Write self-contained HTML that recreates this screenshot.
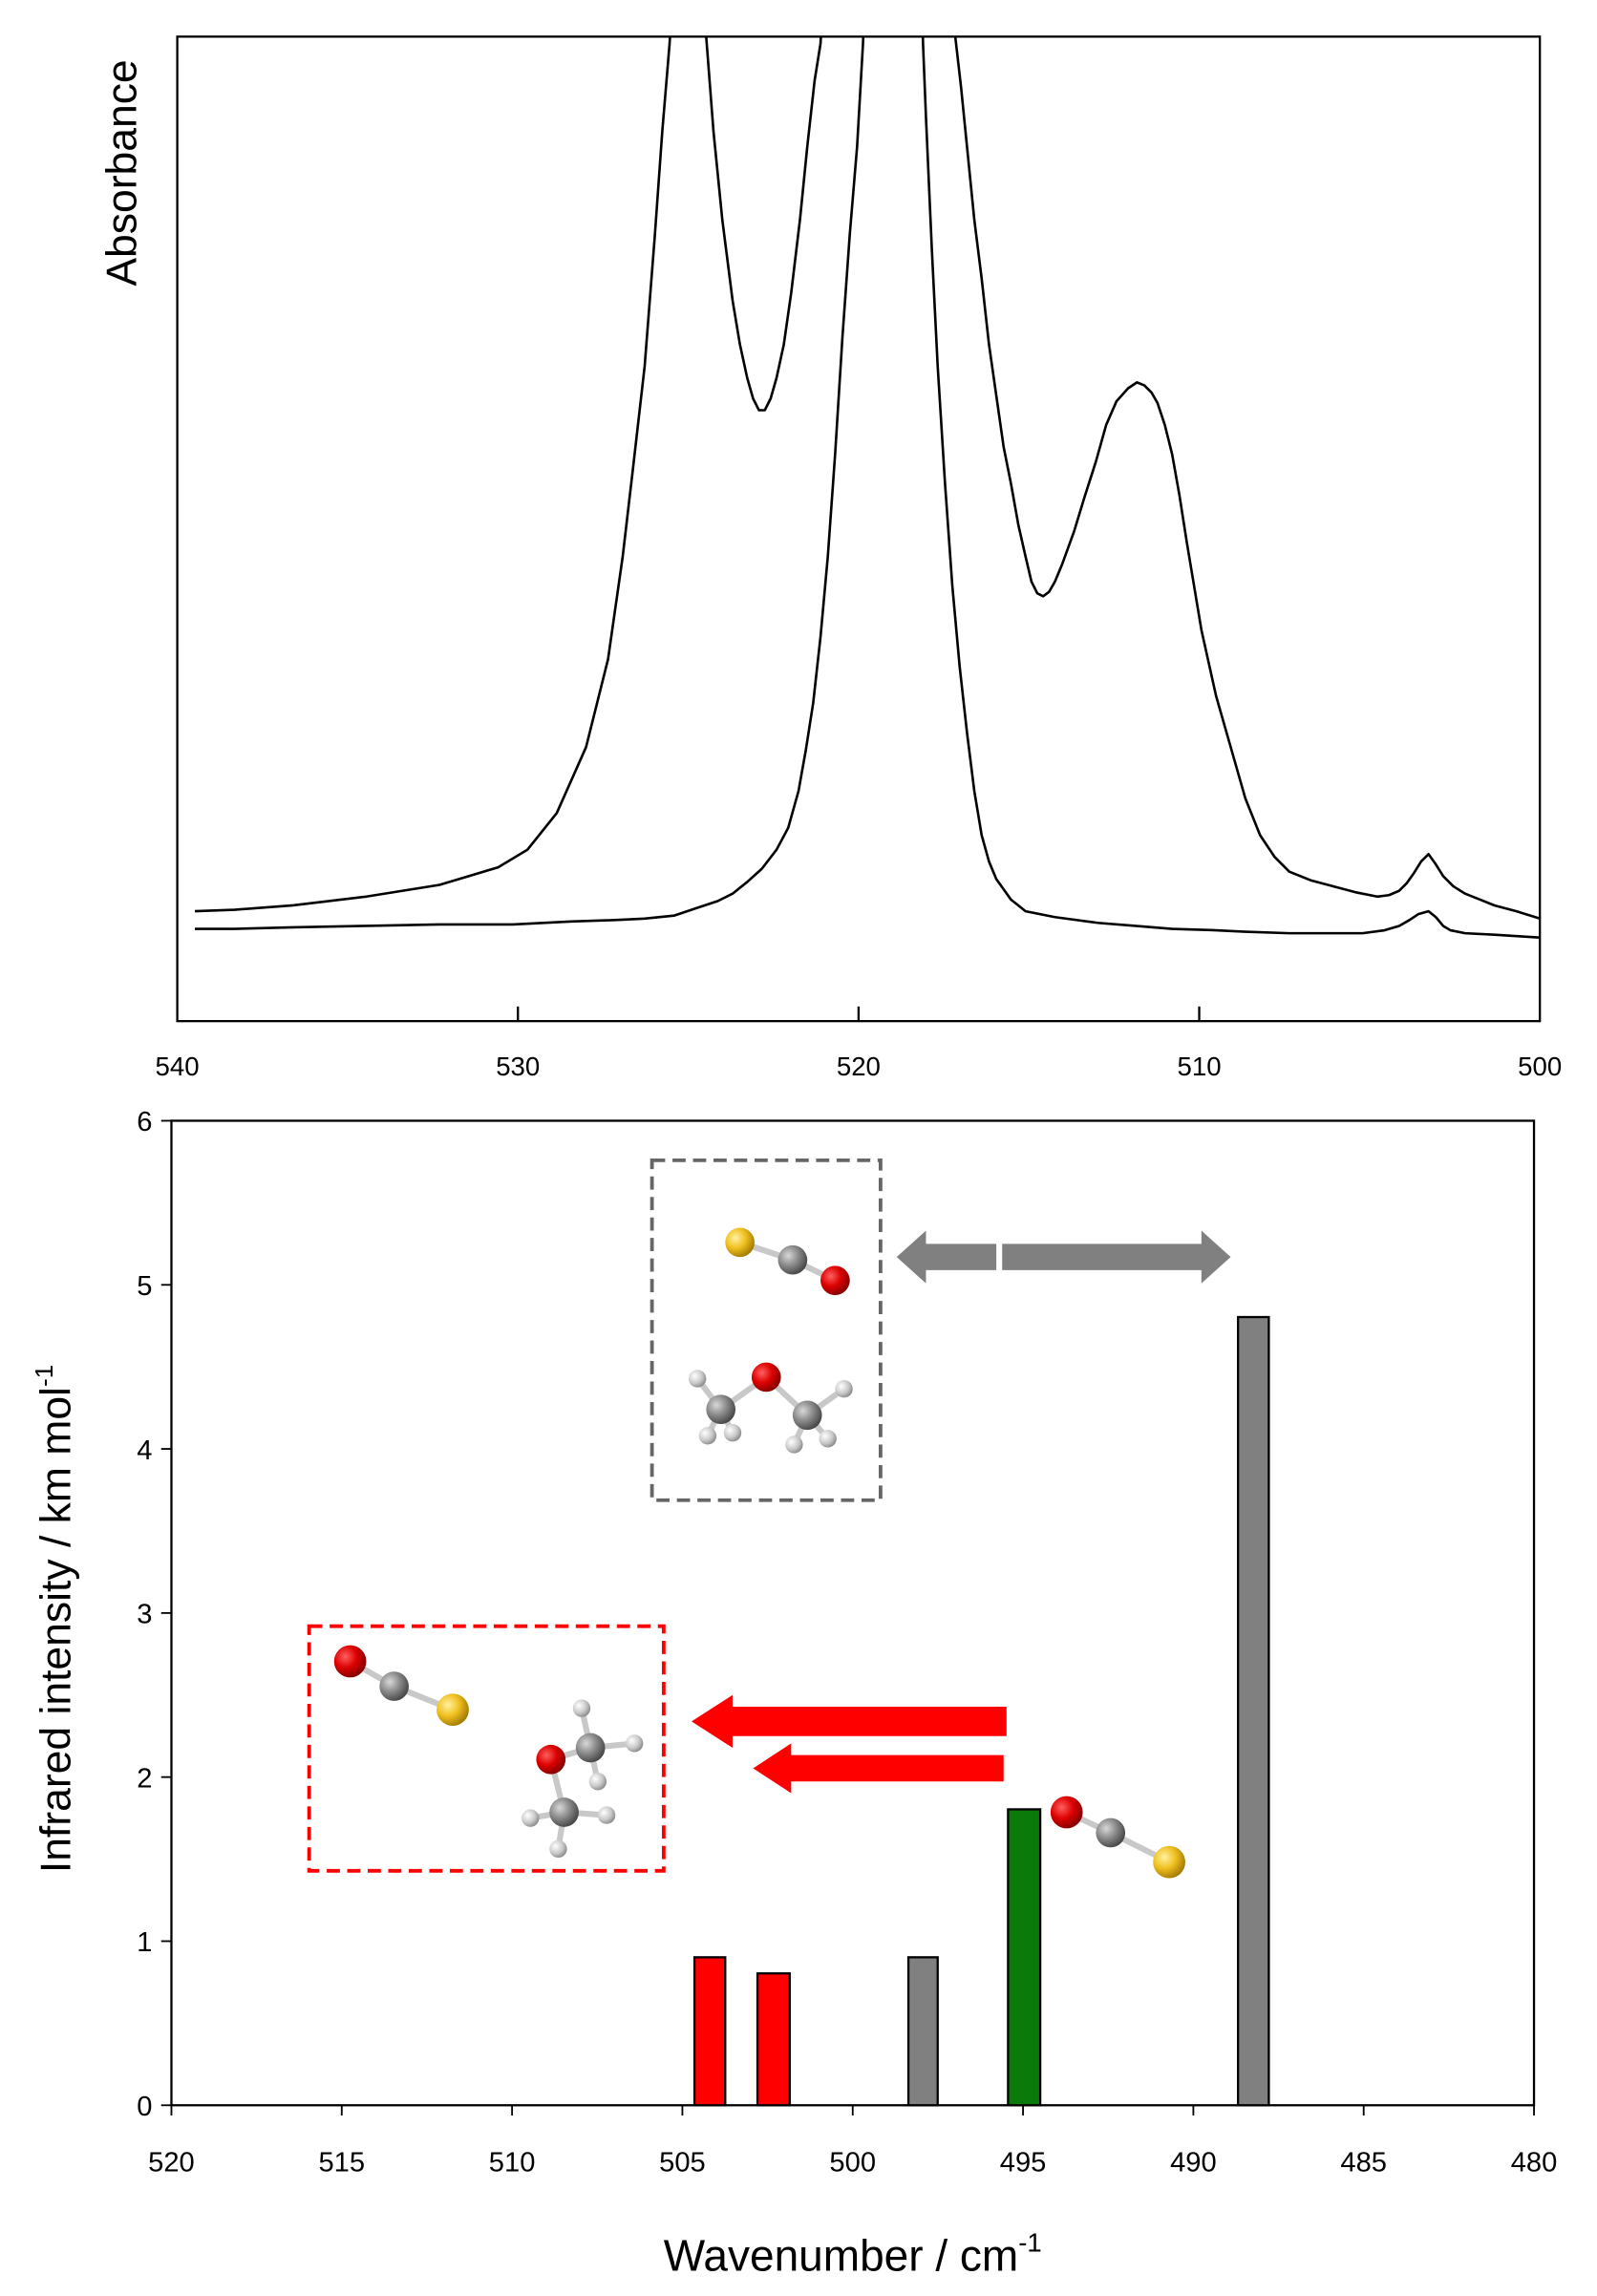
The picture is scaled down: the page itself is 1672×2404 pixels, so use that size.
<!DOCTYPE html>
<html><head><meta charset="utf-8"><style>html,body{margin:0;padding:0;background:#fff}svg{display:block}</style></head>
<body>
<svg width="1672" height="2404" viewBox="0 0 1090 1567.2" preserveAspectRatio="none" xmlns="http://www.w3.org/2000/svg" font-family="Liberation Sans, Arial, sans-serif">
<defs>
<clipPath id="c1"><rect x="121" y="25" width="930" height="672"/></clipPath>
<radialGradient id="gr" cx="0.35" cy="0.35" r="0.7"><stop offset="0" stop-color="#ff6060"/><stop offset="0.5" stop-color="#dd0000"/><stop offset="1" stop-color="#800000"/></radialGradient>
<radialGradient id="gy" cx="0.35" cy="0.35" r="0.7"><stop offset="0" stop-color="#fff2a0"/><stop offset="0.5" stop-color="#f0c020"/><stop offset="1" stop-color="#a07800"/></radialGradient>
<radialGradient id="gg" cx="0.35" cy="0.35" r="0.7"><stop offset="0" stop-color="#d8d8d8"/><stop offset="0.5" stop-color="#8a8a8a"/><stop offset="1" stop-color="#444"/></radialGradient>
<radialGradient id="gh" cx="0.35" cy="0.35" r="0.7"><stop offset="0" stop-color="#fff"/><stop offset="0.6" stop-color="#c8c8c8"/><stop offset="1" stop-color="#888"/></radialGradient>
</defs>

<!-- Top chart -->
<rect x="121" y="25" width="930" height="672" fill="none" stroke="#000" stroke-width="1.5"/>
<g stroke="#000" stroke-width="1.5">
<line x1="353.5" y1="697" x2="353.5" y2="687"/><line x1="586" y1="697" x2="586" y2="687"/><line x1="818.5" y1="697" x2="818.5" y2="687"/>
</g>
<g font-size="18" text-anchor="middle" fill="#000">
<text x="121" y="734">540</text><text x="353.5" y="734">530</text><text x="586" y="734">520</text><text x="818.5" y="734">510</text><text x="1051" y="734">500</text>
</g>
<text transform="translate(93,118) rotate(-90)" font-size="29" text-anchor="middle">Absorbance</text>
<g clip-path="url(#c1)" fill="none" stroke="#000" stroke-width="1.7" stroke-linejoin="round">
<polyline points="133,622 160,621 200,618 250,612 300,604 340,592 360,580 380,555 400,510 415,450 425,380 432,320 440,250 447,160 452,90 457,30 460,-20 469,-150 478,-20 482,25 487,90 493,150 500,205 505,235 510,258 514,272 518,280 522,280 526,272 530,258 535,235 540,200 546,150 551,100 556,55 560,30 565,-50 610,-300 655,-50 652,25 656,60 660,100 665,150 670,190 675,235 680,270 685,305 690,330 695,358 700,380 704,397 708,405 712,407 716,404 720,397 725,385 733,363 740,340 748,315 755,290 762,274 770,265 776,261 781,263 786,268 790,275 795,290 800,310 805,338 810,370 815,400 820,430 830,475 840,510 850,545 860,570 870,585 880,595 895,601 910,605 925,609 940,612 948,611 955,608 960,603 965,596 970,588 975,583 980,590 985,598 992,605 1000,610 1010,614 1020,618 1035,622 1051,627"/>
<polyline points="133,634 160,634 200,633 250,632 300,631 350,631 390,629 420,628 440,627 460,625 475,620 490,615 500,610 510,602 520,593 530,580 538,565 545,540 550,512 555,480 560,435 565,380 570,310 575,230 580,160 585,100 589,30 592,-50 610,-300 628,-50 630,30 632,80 636,170 640,250 645,330 650,400 655,455 660,500 665,540 670,570 675,588 680,600 690,614 700,622 720,626 750,630 775,632 800,634 830,635 850,636 880,637 900,637 930,637 945,635 955,632 962,628 968,624 975,622 980,626 985,632 990,635 1000,637 1020,638 1051,640"/>
</g>

<!-- Bottom chart -->
<rect x="117" y="765" width="930" height="672" fill="none" stroke="#000" stroke-width="1.5"/>
<g stroke="#000" stroke-width="1.2">
<line x1="110" y1="765" x2="117" y2="765"/><line x1="110" y1="877" x2="117" y2="877"/><line x1="110" y1="989" x2="117" y2="989"/><line x1="110" y1="1101" x2="117" y2="1101"/><line x1="110" y1="1213" x2="117" y2="1213"/><line x1="110" y1="1325" x2="117" y2="1325"/><line x1="110" y1="1437" x2="117" y2="1437"/>
<line x1="117" y1="1437" x2="117" y2="1444"/><line x1="233.25" y1="1437" x2="233.25" y2="1444"/><line x1="349.5" y1="1437" x2="349.5" y2="1444"/><line x1="465.75" y1="1437" x2="465.75" y2="1444"/><line x1="582" y1="1437" x2="582" y2="1444"/><line x1="698.25" y1="1437" x2="698.25" y2="1444"/><line x1="814.5" y1="1437" x2="814.5" y2="1444"/><line x1="930.75" y1="1437" x2="930.75" y2="1444"/><line x1="1047" y1="1437" x2="1047" y2="1444"/>
</g>
<g font-size="19" text-anchor="end" fill="#000">
<text x="104" y="772">6</text><text x="104" y="884">5</text><text x="104" y="996">4</text><text x="104" y="1108">3</text><text x="104" y="1220">2</text><text x="104" y="1332">1</text><text x="104" y="1444">0</text>
</g>
<g font-size="19" text-anchor="middle" fill="#000">
<text x="117" y="1482">520</text><text x="233.25" y="1482">515</text><text x="349.5" y="1482">510</text><text x="465.75" y="1482">505</text><text x="582" y="1482">500</text><text x="698.25" y="1482">495</text><text x="814.5" y="1482">490</text><text x="930.75" y="1482">485</text><text x="1047" y="1482">480</text>
</g>
<text transform="translate(48,1105) rotate(-90)" font-size="29" text-anchor="middle">Infrared intensity / km mol<tspan font-size="17" dy="-12">-1</tspan></text>
<text x="582" y="1550" font-size="30" text-anchor="middle">Wavenumber / cm<tspan font-size="18" dy="-13">-1</tspan></text>

<g stroke="#000" stroke-width="1.5">
<rect x="474" y="1336" width="21" height="101" fill="#ff0000"/>
<rect x="517" y="1347" width="22" height="90" fill="#ff0000"/>
<rect x="620" y="1336" width="20" height="101" fill="#808080"/>
<rect x="688" y="1235" width="22" height="202" fill="#0a7a0a"/>
<rect x="845" y="899" width="21" height="538" fill="#808080"/>
</g>

<!-- boxes -->
<rect x="445" y="792" width="156" height="232" fill="none" stroke="#666" stroke-width="2.5" stroke-dasharray="9,5"/>
<rect x="211" y="1110" width="242" height="167" fill="none" stroke="#ff0000" stroke-width="2.5" stroke-dasharray="9,5"/>

<!-- arrows -->
<polygon points="612,858 632,840 632,849 680,849 680,867 632,867 632,876" fill="#808080"/>
<polygon points="684,849 820,849 820,840 840,858 820,876 820,867 684,867" fill="#808080"/>
<polygon points="472,1175 500,1157 500,1165 687,1165 687,1185 500,1185 500,1193" fill="#ff0000"/>
<polygon points="514,1207 540,1190 540,1198 685,1198 685,1216 540,1216 540,1224" fill="#ff0000"/>

<!-- molecules -->
<g stroke="#c8c8c8" stroke-width="4">
<line x1="505" y1="848" x2="541" y2="860"/><line x1="541" y1="860" x2="570" y2="874"/>
<line x1="523" y1="940" x2="492" y2="962"/><line x1="523" y1="940" x2="551" y2="966"/>
<line x1="492" y1="962" x2="476" y2="941"/><line x1="492" y1="962" x2="483" y2="980"/><line x1="492" y1="962" x2="500" y2="978"/>
<line x1="551" y1="966" x2="576" y2="948"/><line x1="551" y1="966" x2="542" y2="986"/><line x1="551" y1="966" x2="565" y2="982"/>
<line x1="239" y1="1134" x2="269" y2="1151"/><line x1="269" y1="1151" x2="309" y2="1167"/>
<line x1="376" y1="1201" x2="403" y2="1193"/><line x1="376" y1="1201" x2="385" y2="1237"/>
<line x1="403" y1="1193" x2="397" y2="1166"/><line x1="403" y1="1193" x2="433" y2="1190"/><line x1="403" y1="1193" x2="408" y2="1216"/>
<line x1="385" y1="1237" x2="362" y2="1241"/><line x1="385" y1="1237" x2="414" y2="1239"/><line x1="385" y1="1237" x2="381" y2="1262"/>
<line x1="728" y1="1237" x2="758" y2="1251"/><line x1="758" y1="1251" x2="798" y2="1271"/>
</g>
<circle cx="505" cy="848" r="10" fill="url(#gy)"/><circle cx="541" cy="860" r="10" fill="url(#gg)"/><circle cx="570" cy="874" r="10" fill="url(#gr)"/>
<circle cx="476" cy="941" r="6" fill="url(#gh)"/><circle cx="483" cy="980" r="6" fill="url(#gh)"/><circle cx="500" cy="978" r="6" fill="url(#gh)"/>
<circle cx="576" cy="948" r="6" fill="url(#gh)"/><circle cx="542" cy="986" r="6" fill="url(#gh)"/><circle cx="565" cy="982" r="6" fill="url(#gh)"/>
<circle cx="492" cy="962" r="10" fill="url(#gg)"/><circle cx="551" cy="966" r="10" fill="url(#gg)"/><circle cx="523" cy="940" r="10" fill="url(#gr)"/>
<circle cx="239" cy="1134" r="11" fill="url(#gr)"/><circle cx="269" cy="1151" r="10" fill="url(#gg)"/><circle cx="309" cy="1167" r="11" fill="url(#gy)"/>
<circle cx="397" cy="1166" r="6" fill="url(#gh)"/><circle cx="433" cy="1190" r="6" fill="url(#gh)"/><circle cx="408" cy="1216" r="6" fill="url(#gh)"/>
<circle cx="362" cy="1241" r="6" fill="url(#gh)"/><circle cx="414" cy="1239" r="6" fill="url(#gh)"/><circle cx="381" cy="1262" r="6" fill="url(#gh)"/>
<circle cx="403" cy="1193" r="10" fill="url(#gg)"/><circle cx="385" cy="1237" r="10" fill="url(#gg)"/><circle cx="376" cy="1201" r="10" fill="url(#gr)"/>
<circle cx="728" cy="1237" r="11" fill="url(#gr)"/><circle cx="758" cy="1251" r="10" fill="url(#gg)"/><circle cx="798" cy="1271" r="11" fill="url(#gy)"/>
</svg>
</body></html>
